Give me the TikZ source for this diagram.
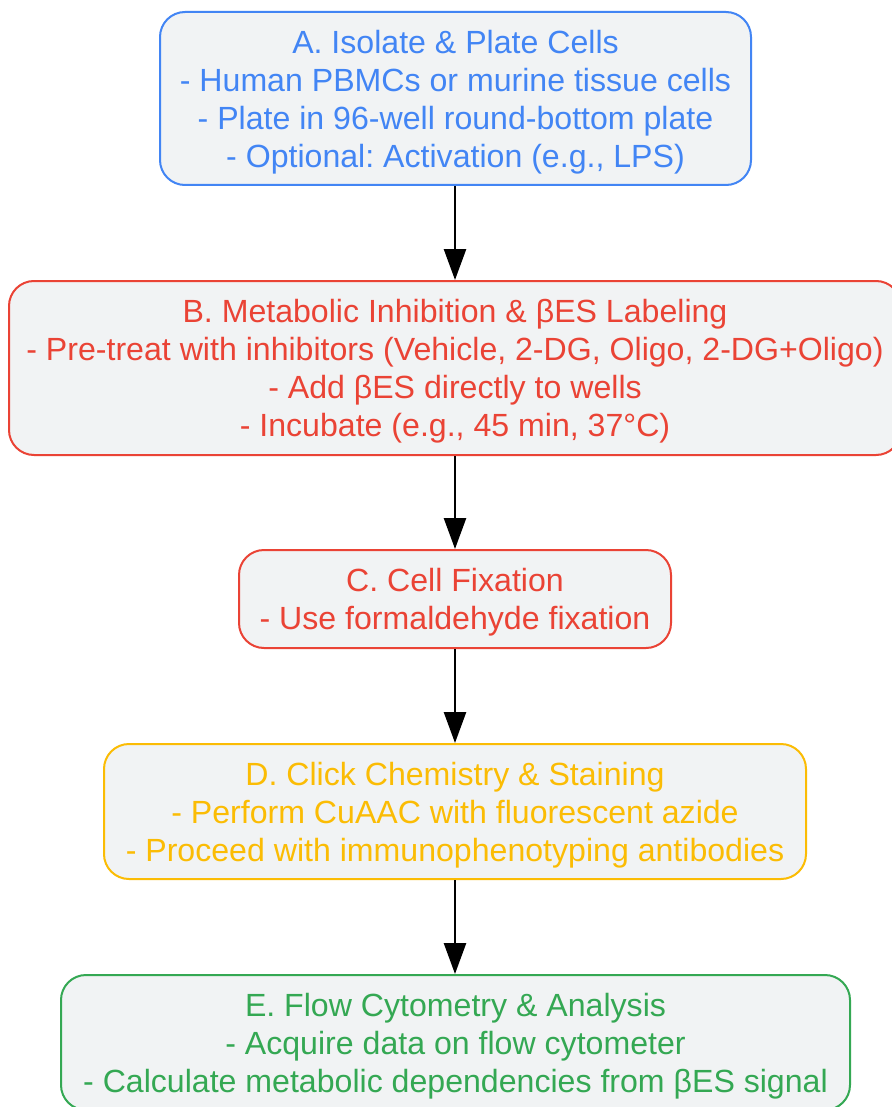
\documentclass[tikz,border=0pt]{standalone}
\usepackage{fontspec}
\setmainfont{Liberation Sans}
\usetikzlibrary{arrows.meta}
\definecolor{cblue}{HTML}{4285F4}
\definecolor{cred}{HTML}{EA4335}
\definecolor{cyellow}{HTML}{FBBC04}
\definecolor{cgreen}{HTML}{34A853}
\definecolor{cfill}{HTML}{F1F3F4}
\begin{document}
\frenchspacing
\begin{tikzpicture}[x=1pt,y=-1pt,
  stepbox/.style={draw, line width=2pt, fill=cfill, rounded corners=25pt, inner sep=0pt},
  steptext/.style={inner sep=0pt, yshift=-3.5pt, align=center, font=\fontsize{32.1}{38}\selectfont},
  flow/.style={line width=2.6pt, -{Triangle[length=31pt,width=22pt]}}]
\useasboundingbox (0,0) rectangle (891,1107);
\fill[white] (0,0) rectangle (891,1107);
\node[stepbox, draw=cblue, minimum width=591pt, minimum height=173pt] (A) at (455.5,98.5) {};
\node[steptext, text=cblue] (At) at (A.center)
  {A. Isolate \& Plate Cells\\- Human PBMCs or murine tissue cells\\- Plate in 96-well round-bottom plate\\- Optional: Activation (e.g., LPS)};
\node[stepbox, draw=cred, minimum width=892pt, minimum height=174pt] (B) at (455,368) {};
\node[steptext, text=cred] (Bt) at (B.center)
  {B. Metabolic Inhibition \& βES Labeling\\- Pre-treat with inhibitors (Vehicle, 2-DG, Oligo, 2-DG+Oligo)\\- Add βES directly to wells\\- Incubate (e.g., 45 min, 37°C)};
\node[stepbox, draw=cred, minimum width=432pt, minimum height=98pt] (C) at (455,599) {};
\node[steptext, text=cred] (Ct) at (C.center)
  {C. Cell Fixation\\- Use formaldehyde fixation};
\node[stepbox, draw=cyellow, minimum width=702pt, minimum height=135pt] (D) at (455,811.5) {};
\node[steptext, text=cyellow] (Dt) at (D.center)
  {D. Click Chemistry \& Staining\\- Perform CuAAC with fluorescent azide\\- Proceed with immunophenotyping antibodies};
\node[stepbox, draw=cgreen, minimum width=789pt, minimum height=135pt] (E) at (455.5,1042.5) {};
\node[steptext, text=cgreen] (Et) at (E.center)
  {E. Flow Cytometry \& Analysis\\- Acquire data on flow cytometer\\- Calculate metabolic dependencies from βES signal};
\draw[flow] (A.south -| 455,0) -- (B.north -| 455,0);
\draw[flow] (B.south -| 455,0) -- (C.north -| 455,0);
\draw[flow] (C.south -| 455,0) -- (D.north -| 455,0);
\draw[flow] (D.south -| 455,0) -- (E.north -| 455,0);
\end{tikzpicture}
\end{document}
